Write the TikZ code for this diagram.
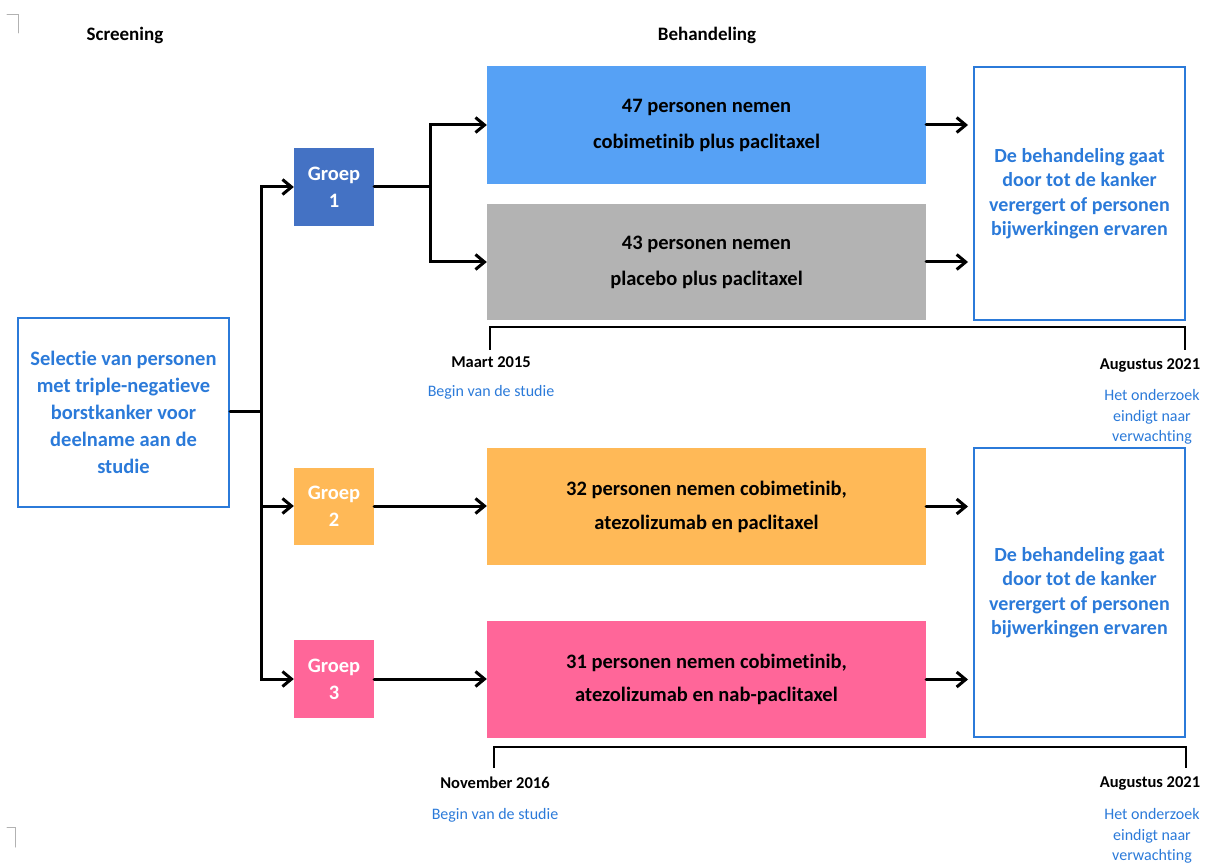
\documentclass[tikz,border=0pt]{standalone}
\usepackage{fontspec}
\setmainfont{Carlito}[Ligatures=NoCommon]
\usetikzlibrary{arrows.meta}
\definecolor{lineblue}{RGB}{43,122,217}
\definecolor{groepblue}{RGB}{68,114,196}
\definecolor{armblue}{RGB}{86,161,245}
\definecolor{armgray}{RGB}{179,179,179}
\definecolor{armorange}{RGB}{255,185,87}
\definecolor{armpink}{RGB}{255,102,153}
\begin{document}
\begin{tikzpicture}[x=1pt,y=-1pt,>={Straight Barb[length=9pt,width=15pt]},line cap=round,
  flow/.style={line width=3pt},
  kop/.style={font=\fontsize{19}{21}\selectfont\bfseries},
  groepbox/.style={minimum width=80pt,minimum height=78pt,inner sep=0pt,align=center,text=white,font=\fontsize{20.5}{27}\selectfont\bfseries},
  armbox/.style={minimum width=439pt,minimum height=117pt,inner sep=0pt,align=center,font=\fontsize{20.5}{36}\selectfont\bfseries},
  infobox/.style={draw=lineblue,line width=2pt,inner sep=0pt,align=center,text=lineblue,minimum width=211pt},
  datum/.style={font=\fontsize{16.5}{18}\selectfont\bfseries},
  notitie/.style={text=lineblue,align=center,font=\fontsize{16}{20.5}\selectfont}]
\useasboundingbox (0,0) rectangle (1207,866);
\draw[gray!60,line width=1pt] (7,15) -- (18,15) -- (18,33);
\draw[gray!60,line width=1pt] (7,827) -- (15,827) -- (15,847);
\node[kop] (screening) at (125,35) {Screening};
\node[kop] (behandeling) at (707,35) {Behandeling};
\node[infobox,minimum height=189pt,font=\fontsize{20.5}{27}\selectfont\bfseries] (sel) at (123.5,412.5)
  {Selectie van personen\\met triple-negatieve\\borstkanker voor\\deelname aan de\\studie};
\node[groepbox,fill=groepblue] (g1) at (334,187) {Groep\\1};
\node[groepbox,fill=armorange,minimum height=77pt] (g2) at (334,506) {Groep\\2};
\node[groepbox,fill=armpink] (g3) at (334,679) {Groep\\3};
\node[armbox,fill=armblue,minimum height=118pt] (t1) at (706.5,125) {47 personen nemen\\cobimetinib plus paclitaxel};
\node[armbox,fill=armgray,minimum height=116pt] (t2) at (706.5,262) {43 personen nemen\\placebo plus paclitaxel};
\node[armbox,fill=armorange,font=\fontsize{20.5}{34}\selectfont\bfseries] (t3) at (706.5,506.5) {32 personen nemen cobimetinib,\\atezolizumab en paclitaxel};
\node[armbox,fill=armpink,font=\fontsize{20.5}{33}\selectfont\bfseries] (t4) at (706.5,679.5) {31 personen nemen cobimetinib,\\atezolizumab en nab-paclitaxel};
\node[infobox,minimum height=253pt,font=\fontsize{20}{24.5}\selectfont\bfseries] (r1) at (1079.5,193.5)
  {De behandeling gaat\\door tot de kanker\\verergert of personen\\bijwerkingen ervaren};
\node[infobox,minimum height=289pt,font=\fontsize{20}{24.5}\selectfont\bfseries] (r2) at (1079.5,592.5)
  {De behandeling gaat\\door tot de kanker\\verergert of personen\\bijwerkingen ervaren};
\coordinate (trunk) at (261,411);
\coordinate (split1) at (430,187);
\draw[flow] (sel.east |- trunk) -- (trunk);
\draw[flow,->] (trunk) |- (g1.west);
\draw[flow,->] (trunk) |- (g2.west);
\draw[flow,->] (trunk) |- (g3.west);
\draw[flow] (g1.east) -- (split1);
\draw[flow,->] (split1) |- (t1.west);
\draw[flow,->] (split1) |- (t2.west);
\draw[flow,->] (g2.east) -- (g2.east -| t3.west);
\draw[flow,->] (g3.east) -- (g3.east -| t4.west);
\draw[flow,->,shorten >=5pt] (t1.east) -- (t1.east -| r1.west);
\draw[flow,->,shorten >=5pt] (t2.east) -- (t2.east -| r1.west);
\draw[flow,->,shorten >=5pt] (t3.east) -- (t3.east -| r2.west);
\draw[flow,->,shorten >=5pt] (t4.east) -- (t4.east -| r2.west);
\coordinate (b1l) at (490,350);
\coordinate (b1r) at (1185,350);
\coordinate (b2l) at (494,768);
\coordinate (b2r) at (1186,768);
\draw[line width=1.6pt,line cap=butt] (b1l) |- (1185,327) -- (b1r);
\draw[line width=1.6pt,line cap=butt] (b2l) |- (1186,747) -- (b2r);
\node[datum] (start1) at (491,362) {Maart 2015};
\node[notitie] (begin1) at (491,392) {Begin van de studie};
\node[datum] (eind1) at (1150,365) {Augustus 2021};
\node[notitie] (verw1) at (1152,417) {Het onderzoek\\eindigt naar\\verwachting};
\node[datum] (start2) at (495,783) {November 2016};
\node[notitie] (begin2) at (495,815) {Begin van de studie};
\node[datum] (eind2) at (1150,783) {Augustus 2021};
\node[notitie] (verw2) at (1152,836) {Het onderzoek\\eindigt naar\\verwachting};
\end{tikzpicture}
\end{document}
